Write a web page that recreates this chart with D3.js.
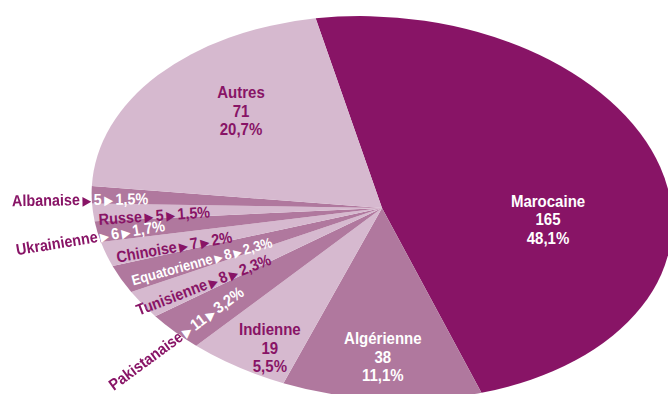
<!DOCTYPE html>
<html>
<head>
<meta charset="utf-8">
<script src="https://cdn.jsdelivr.net/npm/d3@7"></script>
<style>
  html, body { margin: 0; padding: 0; background: #ffffff; }
  svg { display: block; }
  text { font-family: "Liberation Sans", Arial, sans-serif; font-weight: bold; }
</style>
</head>
<body>
<svg id="chart" width="668" height="394"></svg>
<script>
// Nationalities, counts and shares as printed on the chart
const nationalities = ["Marocaine", "Algérienne", "Indienne", "Pakistanaise", "Tunisienne",
  "Equatorienne", "Chinoise", "Ukrainienne", "Russe", "Albanaise", "Autres"];
const counts = [165, 38, 19, 11, 8, 8, 7, 6, 5, 5, 71];
const shares = ["48,1%", "11,1%", "5,5%", "3,2%", "2,3%", "2,3%", "2%", "1,7%", "1,5%", "1,5%", "20,7%"];

const data = nationalities.map((name, i) => ({ name, count: counts[i], share: shares[i], index: i }));

// Palette: leading slice dark, then alternating medium / light
const DARK = "#881466", MID = "#b0789e", LIGHT = "#d6b9cf";
const fillOf = i => i === 0 ? DARK : (i % 2 ? MID : LIGHT);
const inkOf = i => (i === 0 || i % 2) ? "#ffffff" : DARK;

// Tilted (elliptical) pie geometry
const cx = 382, cy = 208, RX = 291, RY = 191, TILT = 5;
const K = RY / RX;
const rad = d => d * Math.PI / 180;
const START = -16.5;

const pie = d3.pie().sort(null).value(d => d.count)
  .startAngle(rad(START)).endAngle(rad(START + 360));
const arcs = pie(data);
const arc = d3.arc().innerRadius(0).outerRadius(RX);

const svg = d3.select("#chart");
const defs = svg.append("defs");
const diskTransform = `translate(${cx},${cy}) rotate(${TILT}) scale(1,${K})`;

// Disk outline used to split label ink inside / outside the pie
defs.append("clipPath").attr("id", "inside")
  .append("circle").attr("r", RX).attr("transform", diskTransform);
const mask = defs.append("mask").attr("id", "outside");
mask.append("rect").attr("width", 668).attr("height", 394).attr("fill", "#fff");
mask.append("circle").attr("r", RX).attr("transform", diskTransform).attr("fill", "#000");

svg.append("g")
  .attr("transform", diskTransform)
  .selectAll("path")
  .data(arcs)
  .join("path")
  .attr("d", arc)
  .attr("fill", d => fillOf(d.data.index));

// Map a (pie angle, radius fraction) pair onto the tilted disk
const ct = Math.cos(rad(TILT)), st = Math.sin(rad(TILT));
const toScreen = (x, y) => [x * ct - y * st, x * st + y * ct];
const project = (theta, r) => {
  const [X, Y] = toScreen(RX * r * Math.sin(theta), -RX * K * r * Math.cos(theta));
  return [cx + X, cy + Y];
};

// Large slices: three stacked lines (name, count, share)
const bigSpots = {
  "Marocaine": [88.4, 0.572],
  "Algérienne": [176.5, 0.776],
  "Indienne": [203.7, 0.851],
  "Autres": [310.8, 0.676]
};
const bigLayer = svg.append("g");
arcs.filter(d => bigSpots[d.data.name]).forEach(d => {
  const [deg, r] = bigSpots[d.data.name];
  const [x, y] = project(rad(deg), r);
  const t = bigLayer.append("text")
    .attr("transform", `translate(${x},${y}) scale(0.91,1)`)
    .attr("text-anchor", "middle")
    .attr("font-size", 16.5)
    .attr("fill", inkOf(d.data.index));
  [d.data.name, String(d.data.count), d.data.share].forEach((line, k) => {
    t.append("tspan").attr("x", 0).attr("y", 6 + (k - 1) * 18.5).text(line);
  });
});

// Thin slices: one line laid along the slice; long ones spill past the rim.
// Each entry: radius fraction of the label centre, extra turn in degrees.
const smallLayout = {
  "Pakistanaise": [1.02, -4], "Tunisienne": [0.76, 2], "Equatorienne": [0.70, 1],
  "Chinoise": [0.76, 0.5], "Ukrainienne": [1.03, -3.5], "Russe": [0.79, -2], "Albanaise": [1.04, -2.5]
};
const smallLayer = svg.append("g");
arcs.filter(d => !bigSpots[d.data.name]).forEach(d => {
  const [r, turn] = smallLayout[d.data.name];
  const mid = (d.startAngle + d.endAngle) / 2 - rad(1.5);
  const [x, y] = project(mid, r);
  const [vx, vy] = toScreen(Math.sin(mid), -K * Math.cos(mid));
  const rot = Math.atan2(-vy, -vx) * 180 / Math.PI + turn;
  const size = d.data.name === "Equatorienne" ? 14.5 : 16;
  const gap = size * 0.17;
  const draw = (g, fill) => {
    const t = g.append("text")
      .attr("transform", `translate(${x},${y}) rotate(${rot}) scale(0.9,1)`)
      .attr("text-anchor", "middle")
      .attr("dy", "0.36em")
      .attr("font-size", size)
      .attr("fill", fill);
    const arrow = () => t.append("tspan").attr("dx", gap).attr("font-family", "DejaVu Sans")
      .attr("font-size", size * 0.8).text("▶");
    t.append("tspan").text(d.data.name);
    arrow();
    t.append("tspan").attr("dx", gap).text(String(d.data.count));
    arrow();
    t.append("tspan").attr("dx", gap).text(d.data.share);
  };
  draw(smallLayer.append("g").attr("clip-path", "url(#inside)"), inkOf(d.data.index));
  draw(smallLayer.append("g").attr("mask", "url(#outside)"), DARK);
});
</script>
</body>
</html>
